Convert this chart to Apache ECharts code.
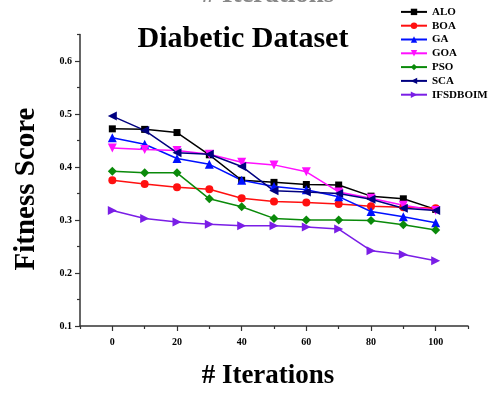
<!DOCTYPE html>
<html><head><meta charset="utf-8">
<script src="https://cdn.jsdelivr.net/npm/echarts@6/dist/echarts.min.js"></script>
<style>html,body{margin:0;padding:0;background:#fff}#c{width:494px;height:394px}</style>
</head><body><div id="c"></div>
<script>
const iterations = [0,10,20,30,40,50,60,70,80,90,100];
const ALO      = [0.472,0.471,0.465,0.423,0.375,0.371,0.367,0.366,0.345,0.340,0.320];
const BOA      = [0.375,0.368,0.362,0.358,0.341,0.335,0.333,0.330,0.326,0.324,0.322];
const GA       = [0.455,0.443,0.416,0.405,0.375,0.363,0.357,0.344,0.316,0.306,0.295];
const GOA      = [0.436,0.433,0.431,0.424,0.409,0.404,0.391,0.353,0.341,0.328,0.318];
const PSO      = [0.392,0.389,0.389,0.340,0.325,0.303,0.300,0.300,0.299,0.291,0.281];
const SCA      = [0.496,0.469,0.427,0.424,0.401,0.355,0.353,0.350,0.339,0.322,0.318];
const IFSDBOIM = [0.318,0.303,0.296,0.292,0.289,0.289,0.287,0.283,0.242,0.235,0.223];
const xLabels = [0,20,40,60,80,100];
const xMinorTicks = [-10,10,30,50,70,90,110];
const yLabels = [0.1,0.2,0.3,0.4,0.5,0.6];
const yMinorTicks = [0.15,0.25,0.35,0.45,0.55,0.65];

const serif = '"Liberation Serif","DejaVu Serif",serif';
const defs = [
  ['ALO', ALO, '#000000', 'rect', 0, 7],
  ['BOA', BOA, '#ff1010', 'circle', 0, 8],
  ['GA', GA, '#0010ff', 'triangle', 0, 9],
  ['GOA', GOA, '#ff10ff', 'triangle', 180, 9],
  ['PSO', PSO, '#0a8a0a', 'diamond', 0, 9],
  ['SCA', SCA, '#000080', 'triangle', 90, 9],
  ['IFSDBOIM', IFSDBOIM, '#7a1ee6', 'triangle', -90, 9]
];
const series = defs.map(d => ({
  name: d[0], type: 'line',
  data: iterations.map((x,i) => [x, d[1][i]]),
  symbol: d[3], symbolRotate: d[4], symbolSize: d[5],
  itemStyle: {color: d[2]},
  lineStyle: {color: d[2], width: 1.5},
  animation: false
}));
const axisColor = '#333';
const chart = echarts.init(document.getElementById('c'));
chart.setOption({
  animation: false,
  title: {text: 'Diabetic Dataset', left: 238, top: 19, textAlign: 'center',
    textStyle: {fontFamily: serif, fontWeight: 'bold', fontSize: 30, color: '#000'}},
  graphic: [
    {type: 'text', x: 268, y: 9, style: {text: '# Iterations', align: 'center', verticalAlign: 'bottom',
      font: 'bold 27px ' + serif, fill: '#888'}},
    {type: 'text', x: 268, y: 376, style: {text: '# Iterations', align: 'center', verticalAlign: 'middle',
      font: 'bold 27px ' + serif, fill: '#000'}},
    {type: 'text', x: 27, y: 189, rotation: Math.PI / 2, style: {text: 'Fitness Score', align: 'center', verticalAlign: 'middle',
      font: 'bold 29px ' + serif, fill: '#000'}}
  ],
  legend: {orient: 'vertical', left: 400, top: 5, padding: 0, itemWidth: 26, itemHeight: 8, itemGap: 0,
    textStyle: {fontFamily: serif, fontWeight: 'bold', fontSize: 11, color: '#000', lineHeight: 13.8},
    data: defs.map(d => d[0])},
  grid: {left: 80, right: 26, top: 34.5, bottom: 68, containLabel: false, outerBoundsMode: 'none'},
  xAxis: [{type: 'value', min: -10, max: 110, position: 'bottom',
    axisLine: {show: true, onZero: false, lineStyle: {color: axisColor, width: 1.5}},
    axisTick: {show: true, inside: false, length: 5, customValues: xLabels, lineStyle: {color: axisColor, width: 1.2}},
    axisLabel: {customValues: xLabels, fontFamily: serif, fontWeight: 'bold', fontSize: 10, color: '#000', margin: 11},
    splitLine: {show: false}},
   {type: 'value', min: -10, max: 110, position: 'bottom', offset: 0,
    axisLine: {show: false},
    axisTick: {show: true, inside: false, length: 3, customValues: xMinorTicks, lineStyle: {color: axisColor, width: 1.2}},
    axisLabel: {show: false}, splitLine: {show: false}}],
  yAxis: [{type: 'value', min: 0.1, max: 0.65, interval: 0.1, position: 'left',
    axisLine: {show: true, onZero: false, lineStyle: {color: axisColor, width: 1.5}},
    axisTick: {show: true, inside: false, length: 5, customValues: yLabels, lineStyle: {color: axisColor, width: 1.2}},
    axisLabel: {customValues: yLabels, formatter: v => v.toFixed(1), fontFamily: serif, fontWeight: 'bold', fontSize: 10, color: '#000', margin: 8},
    splitLine: {show: false}},
   {type: 'value', min: 0.1, max: 0.65, position: 'left', offset: 0,
    axisLine: {show: false, onZero: false},
    axisTick: {show: true, inside: false, length: 3, customValues: yMinorTicks, lineStyle: {color: axisColor, width: 1.2}},
    axisLabel: {show: false}, splitLine: {show: false}}],
  series: series
});
</script></body></html>
